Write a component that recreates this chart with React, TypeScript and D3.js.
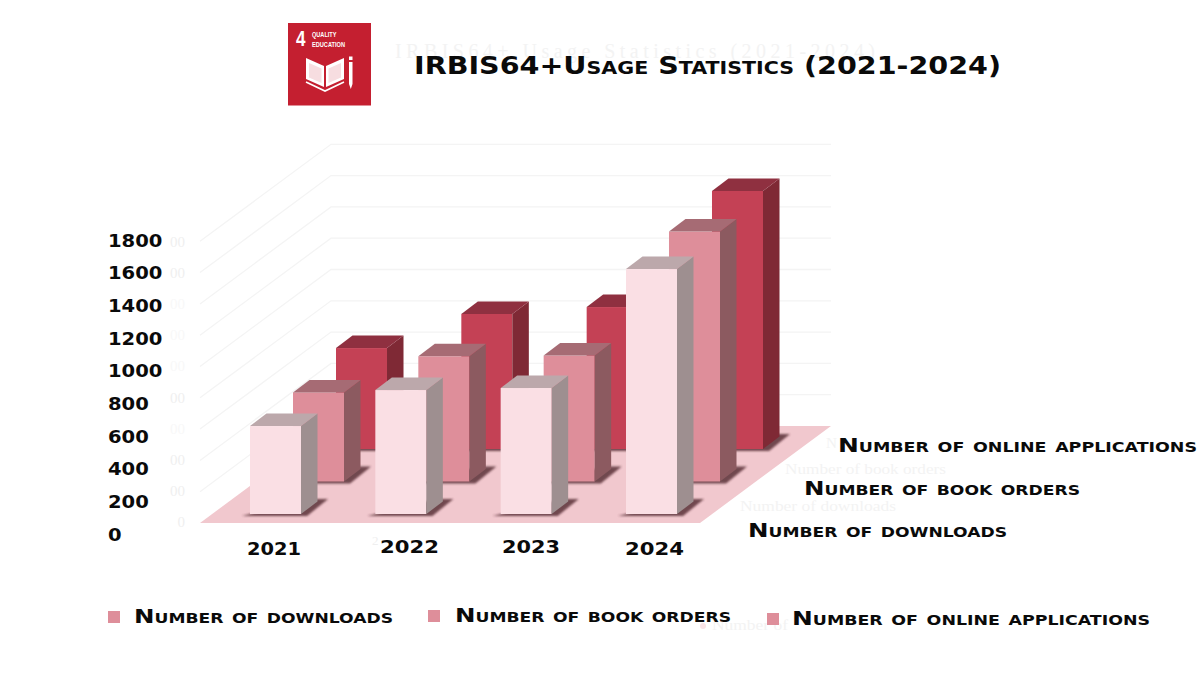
import React from 'react';
import * as d3 from 'd3';

const width = 1200;
const height = 675;

const categories = ['2021', '2022', '2023', '2024'];
const seriesNames = ['Number of downloads', 'Number of book orders', 'Number of online applications'];
const downloads = [562, 792, 805, 1565];
const bookOrders = [569, 800, 805, 1597];
const onlineApps = [645, 863, 907, 1649];
const seriesValues = [downloads, bookOrders, onlineApps];
const tickValues = [0, 200, 400, 600, 800, 1000, 1200, 1400, 1600, 1800];
// only these leftover tick labels still show clearly in the picture
const clearGhostTicks = [0, 200, 400, 800, 1600, 1800];

const frontColors = ['#fadfe4', '#de8e9a', '#c44155'];
const sideColors = ['#9e8f90', '#8c5a60', '#7f2935'];
const topColors = ['#bca8ab', '#a66b74', '#8f3040'];

const mainFont = "'DejaVu Sans', sans-serif";
const ghostFont = "'Liberation Serif', serif";

// bars
const xScale = d3.scaleBand<string>().domain(categories).range([250, 677]).paddingInner(0.593);
const depthX = d3.scalePoint<string>().domain(seriesNames).range([0, 86]);
const depthY = d3.scalePoint<string>().domain(seriesNames).range([514, 449]);
const heightScale = d3.scaleLinear().domain([0, 1800]).range([0, 281.7]);
const barDepthX = 16.5;
const barDepthY = 12.5;

// walls and floor
const floorX = 200;
const floorRight = 700;
const floorY = 523;
const wallDx = 131;
const wallDy = 97;
const wallY = d3.scaleLinear().domain([0, 1800]).range([floorY - wallDy, floorY - wallDy - 281.7]);

// text labels do not sit exactly on the gridlines in the picture
const tickY = d3.scaleLinear().domain([0, 1800]).range([540.5, 246.5]);
const ghostTickY = d3.scaleLinear().domain([0, 1800]).range([527, 247]);

const poly = (pts: number[][]) => d3.line()(pts as [number, number][]) + 'Z';

const labelPos = [
  { x: 748, y: 537, len: 259 },
  { x: 804, y: 495, len: 276 },
  { x: 838, y: 452, len: 359 },
];
const legendPos = [
  { sx: 108, sy: 611, x: 134, y: 623, len: 259 },
  { sx: 428, sy: 610, x: 455, y: 622, len: 276 },
  { sx: 767, sy: 613, x: 792, y: 625, len: 358 },
];
const catPos = [
  { x: 247, y: 555, len: 54 },
  { x: 380, y: 553, len: 59 },
  { x: 502, y: 553, len: 58 },
  { x: 625, y: 555, len: 59 },
];
const ghostLabels = [
  { text: 'Number of downloads', x: 740, y: 511, len: 156 },
  { text: 'Number of book orders', x: 785, y: 474, len: 161 },
  { text: 'N', x: 826, y: 448, len: 11 },
];

const Caps = ({ x, y, len, size, children }: any) => (
  <text
    x={x}
    y={y}
    textLength={len}
    lengthAdjust="spacingAndGlyphs"
    fontFamily={mainFont}
    fontWeight="bold"
    fontSize={size}
    fill="#0a0a0a"
    style={{ fontVariant: 'small-caps' }}
  >
    {children}
  </text>
);

const Logo = () => (
  <g>
    <rect x={288} y={23} width={83} height={82.5} fill="#c41f30" />
    <text x={296} y={46} fontFamily="'Liberation Sans', sans-serif" fontWeight="bold" fontSize={22} fill="#fff" textLength={9.5} lengthAdjust="spacingAndGlyphs">4</text>
    <text x={312} y={37} fontFamily="'Liberation Sans', sans-serif" fontWeight="bold" fontSize={8} fill="#fff" textLength={24.5} lengthAdjust="spacingAndGlyphs">QUALITY</text>
    <text x={312} y={47} fontFamily="'Liberation Sans', sans-serif" fontWeight="bold" fontSize={8} fill="#fff" textLength={33} lengthAdjust="spacingAndGlyphs">EDUCATION</text>
    <path d="M306 58 L324 66 L324 87 L306 79 Z M344 58 L326 66 L326 87 L344 79 Z" fill="#fff" />
    <path d="M309 63 L321.5 68.5 L321.5 83 L309 77.5 Z M341 63 L328.5 68.5 L328.5 83 L341 77.5 Z" fill="#f7dde0" />
    <path d="M306 82 L325 91 L344 82" fill="none" stroke="#fff" strokeWidth={1.6} />
    <path d="M349 62 h3.5 v22 l-1.7 5 l-1.8 -5 Z M349 56.5 h3.5 v3.5 h-3.5 Z" fill="#fff" />
  </g>
);

const App = () => {
  const gridValues = tickValues.slice(1);
  const w = xScale.bandwidth();

  return (
    <svg width={width} height={height} style={{ position: 'absolute', left: 0, top: 0, background: '#fff' }}>
      <defs>
        <filter id="soft" x="-20%" y="-30%" width="140%" height="160%">
          <feGaussianBlur stdDeviation="1.3" />
        </filter>
      </defs>

      <Logo />

      {/* faint leftovers of the original text */}
      <g fontFamily={ghostFont} fill="#efefef">
        <text x={395} y={58} fontSize={20} fill="#f3f3f3" textLength={480} lengthAdjust="spacing">IRBIS64+ Usage Statistics (2021-2024)</text>
        {tickValues.map(t => (
          <text key={t} x={185} y={ghostTickY(t)} fontSize={15} textAnchor="end" fill={clearGhostTicks.includes(t) ? '#efefef' : '#f8f8f8'}>
            {String(t).slice(-2)}
          </text>
        ))}
        {ghostLabels.map(g => (
          <text key={g.text} x={g.x} y={g.y} fontSize={14} fill="#f3f3f3" textLength={g.len} lengthAdjust="spacingAndGlyphs">{g.text}</text>
        ))}
        <text x={372} y={545} fontSize={13}>2</text>
        <circle cx={703} cy={626} r={3} fill="#f9e3e6" />
        <text x={712} y={630} fontSize={14} fill="#f3f3f3" textLength={76} lengthAdjust="spacingAndGlyphs">Number of</text>
      </g>

      {gridValues.map(t => (
        <path
          key={t}
          d={d3.line()([[floorX, wallY(t) + wallDy], [floorX + wallDx, wallY(t)], [floorRight + wallDx, wallY(t)]])!}
          fill="none"
          stroke="#f4f4f4"
          strokeWidth={1.3}
        />
      ))}

      <path
        d={poly([[floorX, floorY], [floorRight, floorY], [floorRight + wallDx, floorY - wallDy], [floorX + wallDx, floorY - wallDy]])}
        fill="#f1c8ce"
      />

      {seriesNames.map((s, i) => ({ s, i })).reverse().map(({ s, i }) => (
        <g key={s}>
          {categories.map((c, j) => {
            const x0 = xScale(c)! + depthX(s)!;
            const x1 = x0 + w;
            const base = depthY(s)!;
            const top = base - heightScale(seriesValues[i][j]);
            return (
              <g key={c}>
                <path
                  d={poly([[x0 - 8, base + 2], [x1 + 6, base + 2], [x1 + 27, base - 15], [x1 + 10, base - 15]])}
                  fill="#5a3037"
                  opacity={0.85}
                  filter="url(#soft)"
                />
                <rect x={x0} y={top} width={w} height={base - top} fill={frontColors[i]} />
                <path d={poly([[x1, top], [x1 + barDepthX, top - barDepthY], [x1 + barDepthX, base - barDepthY], [x1, base]])} fill={sideColors[i]} />
                <path d={poly([[x0, top], [x0 + barDepthX, top - barDepthY], [x1 + barDepthX, top - barDepthY], [x1, top]])} fill={topColors[i]} />
              </g>
            );
          })}
        </g>
      ))}

      <Caps x={414} y={74} len={587} size={25}>IRBIS64+Usage Statistics (2021-2024)</Caps>

      {tickValues.map(t => (
        <text
          key={t}
          x={108}
          y={tickY(t)}
          textLength={String(t).length * 13.6}
          lengthAdjust="spacingAndGlyphs"
          fontFamily={mainFont}
          fontWeight="bold"
          fontSize={17}
          fill="#0a0a0a"
        >
          {t}
        </text>
      ))}

      {categories.map((c, i) => (
        <text key={c} x={catPos[i].x} y={catPos[i].y} textLength={catPos[i].len} lengthAdjust="spacingAndGlyphs" fontFamily={mainFont} fontWeight="bold" fontSize={18} fill="#0a0a0a">
          {c}
        </text>
      ))}

      {seriesNames.map((s, i) => (
        <Caps key={s} x={labelPos[i].x} y={labelPos[i].y} len={labelPos[i].len} size={20}>{s}</Caps>
      ))}

      {seriesNames.map((s, i) => (
        <g key={s}>
          <rect x={legendPos[i].sx} y={legendPos[i].sy} width={12} height={12} fill="#de8e9a" />
          <Caps x={legendPos[i].x} y={legendPos[i].y} len={legendPos[i].len} size={20}>{s}</Caps>
        </g>
      ))}
    </svg>
  );
};

export default App;
